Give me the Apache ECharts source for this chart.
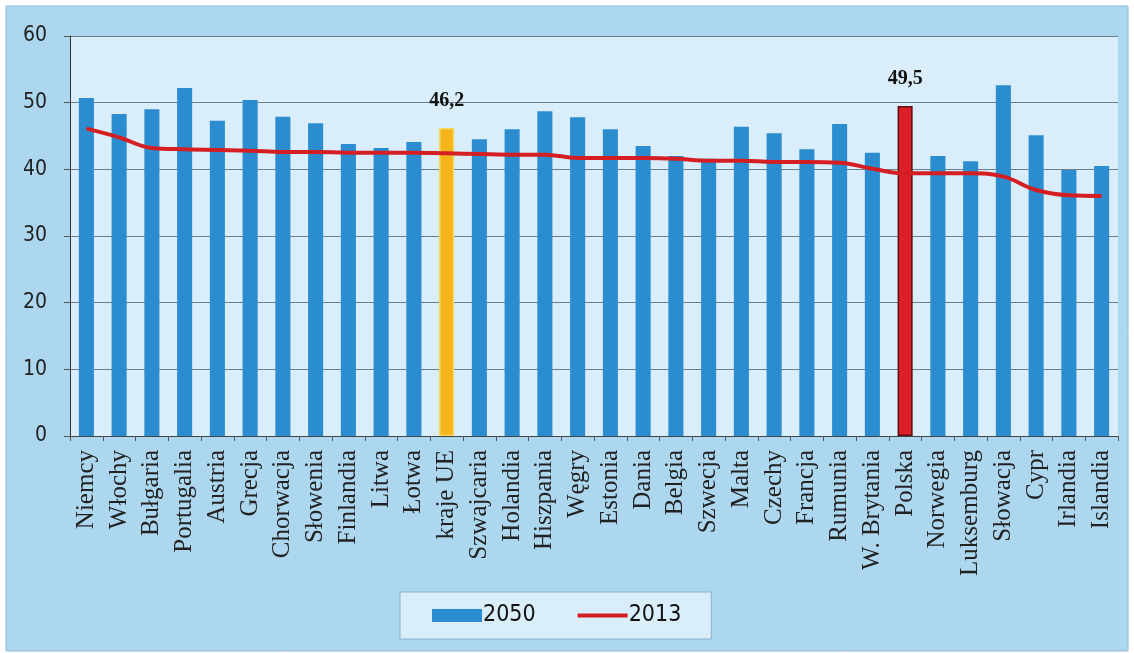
<!DOCTYPE html>
<html>
<head>
<meta charset="utf-8">
<script src="https://cdn.jsdelivr.net/npm/echarts@6/dist/echarts.min.js"></script>
<style>
  html, body { margin: 0; padding: 0; background: #ffffff; }
  #chart { width: 1134px; height: 653px; }
</style>
</head>
<body>
<div id="chart"></div>
<script>
// Countries, ordered by the 2013 value
const categories = [
  'Niemcy', 'Włochy', 'Bułgaria', 'Portugalia', 'Austria', 'Grecja', 'Chorwacja',
  'Słowenia', 'Finlandia', 'Litwa', 'Łotwa', 'kraje UE', 'Szwajcaria', 'Holandia',
  'Hiszpania', 'Węgry', 'Estonia', 'Dania', 'Belgia', 'Szwecja', 'Malta', 'Czechy',
  'Francja', 'Rumunia', 'W. Brytania', 'Polska', 'Norwegia', 'Luksemburg',
  'Słowacja', 'Cypr', 'Irlandia', 'Islandia'
];

// Median age, projection for 2050
const values2050 = [
  50.7, 48.3, 49.0, 52.2, 47.3, 50.4, 47.9,
  46.9, 43.8, 43.2, 44.1, 46.2, 44.5, 46.0,
  48.7, 47.8, 46.0, 43.5, 42.0, 41.6, 46.4, 45.4,
  43.0, 46.8, 42.5, 49.5, 42.0, 41.2,
  52.6, 45.1, 39.9, 40.5
];

// Median age in 2013
const values2013 = [
  46.1, 44.8, 43.2, 43.0, 42.9, 42.8, 42.6,
  42.6, 42.5, 42.5, 42.5, 42.4, 42.3, 42.2,
  42.2, 41.7, 41.7, 41.7, 41.6, 41.3, 41.3, 41.1,
  41.1, 41.0, 40.1, 39.4, 39.4, 39.4,
  38.9, 36.9, 36.1, 36.0
];

const yTicks = [0, 10, 20, 30, 40, 50, 60];

const seriesNames = ['2050', '2013'];

// Bars singled out with their own colour and a value label
const highlighted = {
  'kraje UE': { color: '#f4b41a', borderColor: '#f7d65a' },
  'Polska': { color: '#dc1f26', borderColor: '#5a1010' }
};

const serifFont = "'Liberation Serif', 'DejaVu Serif', serif";
const narrowFont = "'Liberation Sans Narrow', 'DejaVu Sans Condensed', 'Liberation Sans', sans-serif";

const barColor = '#2b8dd0';
const lineColor = '#d41e22';

const barData = values2050.map((v, i) => {
  const h = highlighted[categories[i]];
  if (!h) return v;
  return {
    value: v,
    itemStyle: { color: h.color, borderColor: h.borderColor, borderWidth: 1.5 },
    label: {
      show: true,
      position: 'top',
      distance: 17,
      fontFamily: serifFont,
      fontWeight: 'bold',
      fontSize: 20,
      color: '#111',
      formatter: p => String(p.value).replace('.', ',')
    }
  };
});

const chart = echarts.init(document.getElementById('chart'), null, { renderer: 'canvas' });

chart.setOption({
  animation: false,
  backgroundColor: 'transparent',
  graphic: [{
    type: 'rect',
    z: -10,
    silent: true,
    shape: { x: 6, y: 6, width: 1122, height: 645 },
    style: { fill: '#acd7ef', stroke: '#8fbcd9', lineWidth: 1 }
  }],
  grid: {
    left: 70, right: 16, top: 36, bottom: 217,
    show: true,
    backgroundColor: '#d9eefa',
    borderWidth: 0
  },
  legend: {
    data: [
      { name: seriesNames[0], icon: 'rect' },
      {
        name: seriesNames[1],
        itemStyle: { opacity: 0 },
        lineStyle: { color: lineColor, width: 4 }
      }
    ],
    left: 400,
    top: 592,
    itemWidth: 50,
    itemHeight: 13,
    itemGap: 40,
    padding: [12, 30, 12, 32],
    backgroundColor: '#d9eef9',
    borderColor: '#88b3cf',
    borderWidth: 1,
    textStyle: { fontFamily: narrowFont, fontSize: 23, color: '#111', padding: [0, 0, 0, -4] }
  },
  xAxis: {
    type: 'category',
    data: categories,
    boundaryGap: true,
    axisLine: { lineStyle: { color: '#444', width: 1 } },
    axisTick: { show: true, alignWithLabel: false, length: 5, lineStyle: { color: '#555' } },
    axisLabel: {
      interval: 0,
      rotate: 90,
      margin: 14,
      fontFamily: serifFont,
      fontSize: 25,
      color: '#222'
    }
  },
  yAxis: {
    type: 'value',
    min: yTicks[0],
    max: yTicks[yTicks.length - 1],
    interval: 10,
    axisLine: { show: true, lineStyle: { color: '#333', width: 1 } },
    axisTick: { show: true, length: 6, lineStyle: { color: '#555' } },
    axisLabel: {
      margin: 23,
      fontFamily: narrowFont,
      fontSize: 21,
      color: '#222'
    },
    splitLine: { show: true, lineStyle: { color: '#6f7f8a', width: 1 } }
  },
  series: [
    {
      name: seriesNames[0],
      type: 'bar',
      data: barData,
      barWidth: '46%',
      itemStyle: { color: barColor },
      z: 2
    },
    {
      name: seriesNames[1],
      type: 'line',
      data: values2013,
      smooth: 0.4,
      symbol: 'none',
      lineStyle: { color: lineColor, width: 4 },
      itemStyle: { color: lineColor },
      z: 3
    }
  ]
});
</script>
</body>
</html>
